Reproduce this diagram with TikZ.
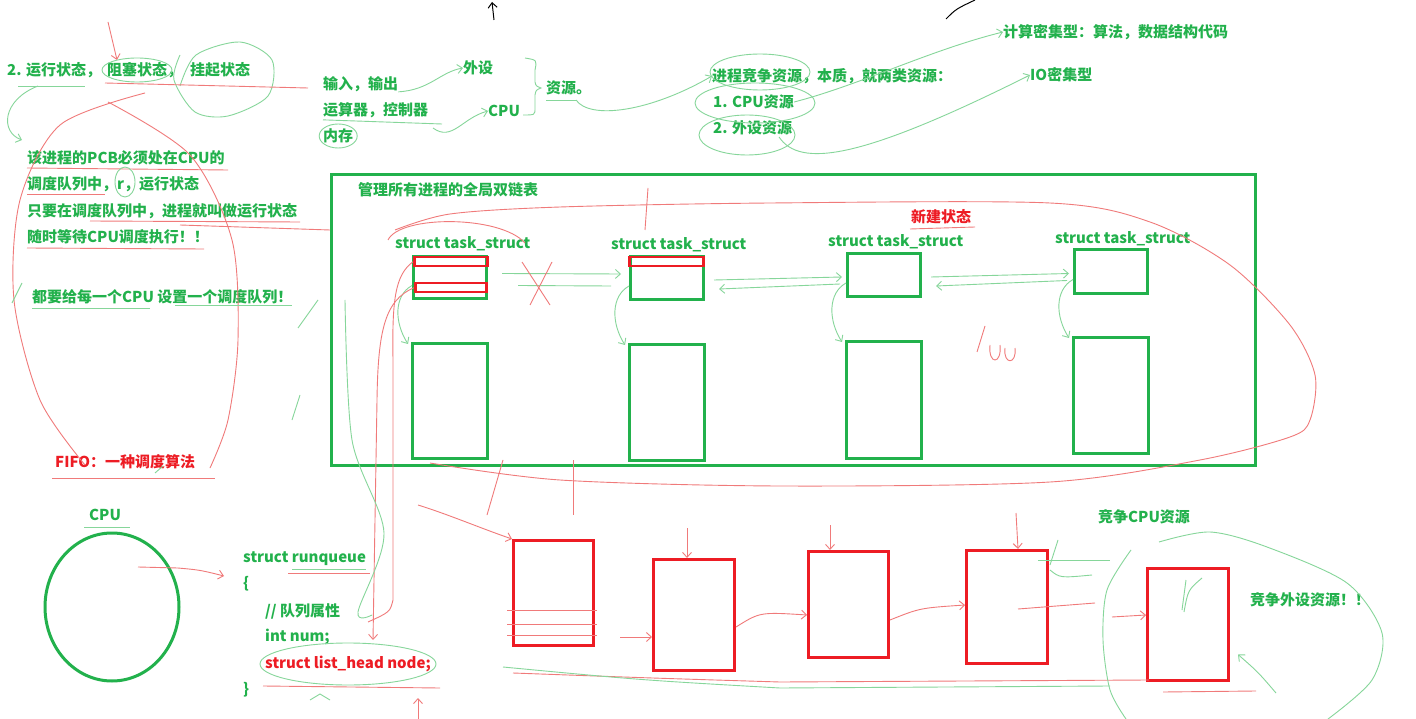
\documentclass[tikz,border=0pt]{standalone}
\usepackage{fontspec}
\setmainfont{Noto Sans CJK SC}
\usetikzlibrary{arrows.meta,shapes.geometric}
\definecolor{paintgreen}{HTML}{22B14C}
\definecolor{paintred}{HTML}{ED1C24}
\definecolor{pengreen}{HTML}{86D69A}
\definecolor{penred}{HTML}{F07A7A}
\tikzset{
  txt/.style={anchor=west, inner sep=0pt, font=\bfseries\fontsize{15}{18}\selectfont, text=paintgreen},
  redtxt/.style={txt, text=paintred},
  gbox/.style={draw=paintgreen, line width=3pt, anchor=north west, inner sep=0pt},
  rbox/.style={draw=paintred, line width=3pt, anchor=north west, inner sep=0pt},
  slot/.style={draw=paintred, line width=2.5pt, anchor=north west, inner sep=0pt,
               minimum height=9pt},
  gpen/.style={draw=pengreen, line width=0.9pt},
  rpen/.style={draw=penred, line width=0.9pt},
  penarrow/.style={-{Straight Barb[length=5pt,width=9pt]}}
}

\begin{document}
\begin{tikzpicture}[x=1pt,y=-1pt]
  \useasboundingbox[fill=white] (0,0) rectangle (1416,719);

  % notes at the top
  \node[txt] (states) at (7,70) {2. 运行状态，};
  \node[txt] (blocked) at (107,70) {阻塞状态，};
  \node[txt] (suspended) at (190,70) {挂起状态};
  \node[txt] (io) at (323,84) {输入，输出};
  \node[txt] (periph) at (463,68) {外设};
  \node[txt] (alu) at (323,110) {运算器，控制器};
  \node[txt] (cpuword) at (488,111) {CPU};
  \node[txt] (mem) at (323,136) {内存};
  \node[txt] (res) at (546,88) {资源。};
  \node[txt] (compete) at (712,76) {进程竞争资源，本质，就两类资源：};
  \node[txt] (cpures) at (713,102) {1. CPU资源};
  \node[txt] (perres) at (713,128) {2. 外设资源};
  \node[txt] (compute) at (1003,32) {计算密集型：算法，数据结构代码};
  \node[txt] (iobound) at (1030,75) {IO密集型};

  \node[txt] (pcbA) at (27,158) {该进程的PCB必须处在CPU的};
  \node[txt] (pcbB) at (27,184) {调度队列中，r，运行状态};
  \node[txt] (pcbC) at (27,211) {只要在调度队列中，进程就叫做运行状态};
  \node[txt] (pcbD) at (27,237) {随时等待CPU调度执行！！};
  \node[txt] (percpu) at (32,297) {都要给每一个CPU 设置一个调度队列！};

  % global list of all processes
  \node[draw=paintgreen, line width=3pt, anchor=north west, inner sep=0pt,
        minimum width=924pt, minimum height=291pt] (global) at (330,173) {};
  \node[txt] (globallbl) at (358,190) {管理所有进程的全局双链表};
  \node[redtxt] (newstate) at (911,217) {新建状态};
  \foreach \i/\x/\y/\h in {1/412/255/42, 2/629/255/43, 3/846/252/43, 4/1073/248/44}
    \node[gbox, minimum width=73pt, minimum height=\h pt] (ts\i) at (\x,\y) {};
  \foreach \i/\x/\y in {1/395/244, 2/611/245, 3/828/242, 4/1055/239}
    \node[txt] (tslbl\i) at (\x,\y) {struct task\_struct};
  \foreach \i/\x/\y/\h in {1/411/342/115, 2/628/343/116, 3/845/340/117, 4/1072/336/116}
    \node[gbox, minimum width=75pt, minimum height=\h pt] (tb\i) at (\x,\y) {};
  \node[slot, minimum width=73pt] (slotA) at (413,256) {};
  \node[slot, minimum width=71pt] (slotB) at (414,282) {};
  \node[slot, minimum width=74pt] (slotC) at (628,256) {};

  % cpu and its run queue
  \node[redtxt] (fifo) at (55,462) {FIFO：一种调度算法};
  \node[txt] (cpulbl) at (89,515) {CPU};
  \node[ellipse, draw=paintgreen, line width=3pt, minimum width=134pt,
        minimum height=148pt] (cpu) at (112,607) {};
  \node[txt] (rqA) at (243,559) {struct runqueue};
  \node[txt] (rqB) at (243,584) {\{};
  \node[txt] (rqC) at (265,611) {// 队列属性};
  \node[txt] (rqD) at (265,637) {int num;};
  \node[redtxt] (rqE) at (265,664) {struct list\_head node;};
  \node[txt] (rqF) at (243,690) {\}};
  \foreach \i/\x/\y/\w/\h in {1/512/539/80/105, 2/652/558/81/111, 3/807/550/80/106,
                             4/965/549/81/113, 5/1146/567/81/112}
    \node[rbox, minimum width=\w pt, minimum height=\h pt] (rb\i) at (\x,\y) {};
  \node[txt] (cpucomp) at (1098,517) {竞争CPU资源};
  \node[txt] (percomp) at (1250,600) {竞争外设资源！！};

  % pen strokes, top
  \draw[black, line width=1pt, penarrow] (494,20) -- (492,2);
  \draw[black, line width=1pt] (946,19) .. controls (956,9) .. (975,0);
  \draw[rpen, penarrow] (108,22) -- (117,60);
  \draw[gpen] (137,70) ellipse [x radius=35pt, y radius=12pt];
  \draw[gpen] plot[smooth] coordinates {(180,86) (196,55) (240,42) (272,60) (268,96)
    (228,116) (195,112) (174,80) (180,55)};
  \draw[rpen] (105,83) -- (308,88);
  \draw[gpen] (18,86) -- (85,86);
  \draw[gpen, penarrow] (38,86) .. controls (2,100) and (0,132) .. (22,140);
  \draw[gpen, penarrow] (io.south east) .. controls (430,90) and (440,72) .. (periph.west);
  \draw[gpen] (alu.south west) ++(0,2) -- (442,124);
  \draw[gpen, penarrow] (433,128) .. controls (452,142) and (462,118) .. (cpuword.west);
  \draw[gpen] (mem) ellipse [x radius=19pt, y radius=12pt];
  \draw[gpen] (525,58) .. controls (537,60) .. (535,70) -- (535,82)
    .. controls (536,86) .. (541,88) .. controls (536,90) .. (535,95) -- (535,108)
    .. controls (535,115) .. (523,115);
  \draw[gpen] (546,100) -- (576,100);
  \draw[gpen, penarrow] (576,100) .. controls (590,120) and (650,112) .. (compete.west);
  \draw[gpen] (760,72) ellipse [x radius=50pt, y radius=18pt];
  \draw[gpen] (755,103) ellipse [x radius=60pt, y radius=20pt];
  \draw[gpen] (747,135) ellipse [x radius=48pt, y radius=20pt];
  \draw[gpen, penarrow] (cpures.east) .. controls (860,85) and (930,50) .. (compute.west);
  \draw[gpen, penarrow] (779,137) .. controls (800,168) and (860,160) .. (iobound.west);

  % pen strokes, left notes
  \draw[rpen] plot[smooth] coordinates {(145,93) (60,125) (20,200) (14,300) (40,400) (85,465)};
  \draw[rpen] plot[smooth] coordinates {(108,102) (190,155) (232,240) (238,340) (228,420) (210,468)};
  \draw[rpen] (27,168) -- (228,170);
  \draw[rpen] (27,194) -- (105,194);
  \draw[rpen] (90,221) -- (300,222);
  \draw[rpen] (27,248) -- (204,249);
  \draw[rpen] (180,225) -- (global.west |- 0,230);
  \draw[gpen] (125,182) ellipse [x radius=10pt, y radius=15pt];
  \draw[gpen] (32,308) -- (150,308);
  \draw[gpen] (175,305) -- (292,305);
  \draw[gpen] (22,283) -- (12,303);
  \draw[gpen] (318,300) -- (298,328);
  \draw[gpen] (300,395) -- (292,420);

  % pen strokes, global list
  \draw[rpen] plot[smooth] coordinates {(395,230) (450,214) (560,207) (770,203) (1050,203)
    (1150,222) (1230,265) (1290,325) (1315,375) (1310,420) (1290,437) (1200,460)
    (1050,482) (780,486) (560,480) (430,463)};
  \draw[rpen] (388,240) .. controls (400,215) and (500,215) .. (525,243);
  \draw[rpen] (648,188) -- (645,230);
  \draw[rpen] (910,229) -- (975,227);
  \draw[gpen, penarrow] ([xshift=14pt,yshift=4pt]ts1.east) -- ([xshift=-8pt,yshift=4pt]ts2.west);
  \draw[gpen] ([xshift=30pt,yshift=-8pt]ts1.east) -- ([xshift=-18pt,yshift=-8pt]ts2.west);
  \draw[rpen] (522,262) -- (550,305);
  \draw[rpen] (552,262) -- (530,305);
  \foreach \a/\b in {2/3, 3/4} {
    \draw[gpen, penarrow] ([xshift=9pt,yshift=-2pt]ts\a.east) -- ([xshift=-4pt,yshift=-2pt]ts\b.west);
    \draw[gpen, penarrow] ([xshift=-6pt,yshift=-9pt]ts\b.west) -- ([xshift=14pt,yshift=-11pt]ts\a.east);
  }
  \foreach \i in {1,2,3,4}
    \draw[gpen, penarrow] ([yshift=-8pt]ts\i.west) .. controls +(-18,10) and +(-14,-22)
      .. ([xshift=-3pt,yshift=-2pt]tb\i.north west);
  \draw[rpen] (985,326) -- (977,352);
  \draw[rpen] (990,345) .. controls (988,365) and (1002,365) .. (1000,345);
  \draw[rpen] (1005,348) .. controls (1003,365) and (1017,365) .. (1015,348);

  % pen strokes, run queue
  \draw[rpen, penarrow] (slotB.west) .. controls (385,300) and (378,330) .. (377,400) -- (373,640);
  \draw[rpen] (slotA.west) .. controls (395,275) and (392,300) .. (393,360) -- (393,600)
    .. controls (390,612) .. (368,622);
  \draw[gpen] plot[smooth] coordinates {(345,300) (352,440) (384,533) (358,612) (372,615)};
  \draw[rpen, penarrow] (138,567) -- (178,568) .. controls (200,570) .. (224,576);
  \draw[rpen] (52,478) -- (215,478);
  \draw[gpen] (155,473) -- (163,466);
  \draw[gpen] (84,527) -- (130,527);
  \draw[rpen] (288,573) -- (370,573);
  \draw[gpen] (292,569) -- (366,569);
  \draw[gpen] (348,664) ellipse [x radius=88pt, y radius=21pt];
  \draw[rpen] (263,686) -- (440,688);
  \draw[rpen, penarrow] (418,719) -- (418,698);
  \draw[gpen] (310,700) -- (320,694) -- (330,700);

  % pen strokes, red queue
  \draw[rpen, penarrow] (418,505) .. controls (450,515) and (480,528) .. (rb1.north west);
  \draw[rpen] (487,515) -- (503,460);
  \draw[rpen] (573,460) -- (573,515);
  \draw[rpen, penarrow] (687,528) -- (rb2.north -| 687,0);
  \draw[rpen, penarrow] (830,525) -- (rb3.north -| 830,0);
  \draw[rpen, penarrow] (1016,513) -- (rb4.north -| 1018,0);
  \foreach \y in {610,624,635}
    \draw[rpen] (507,\y) -- (597,\y);
  \draw[rpen, penarrow] (620,637) -- (rb2.west |- 0,637);
  \draw[rpen, penarrow] (rb2.east |- 0,627) .. controls (760,612) .. (rb3.west |- 0,615);
  \draw[rpen, penarrow] (rb3.east |- 0,620) .. controls (920,608) .. (rb4.west |- 0,605);
  \draw[rpen] (1018,609) -- (1095,603);
  \draw[rpen, penarrow] (1112,617) -- (rb5.west |- 0,615);
  \draw[gpen] (1038,560) -- (1110,560);
  \draw[gpen] (1050,570) .. controls (1060,578) .. (1092,575);
  \draw[gpen] (1058,540) -- (1050,565);
  \draw[gpen] (1186,580) -- (1182,610);
  \draw[gpen] (1202,578) .. controls (1188,590) .. (1184,612);
  \draw[rpen] (513,673) .. controls (650,678) .. (780,682) -- (1149,680);
  \draw[gpen] (503,667) .. controls (640,680) .. (780,688) -- (1110,686);
  \draw[rpen] (1163,692) -- (1256,691);
  \draw[gpen] plot[smooth] coordinates {(1126,719) (1110,690) (1103,640) (1107,590) (1131,550)};
  \draw[gpen] plot[smooth] coordinates {(1159,542) (1210,532) (1267,547) (1347,583)
    (1382,633) (1372,680) (1328,719)};
  \draw[gpen, penarrow] (1276,693) .. controls (1258,672) .. ([xshift=8pt,yshift=-30pt]rb5.east);
\end{tikzpicture}
\end{document}
